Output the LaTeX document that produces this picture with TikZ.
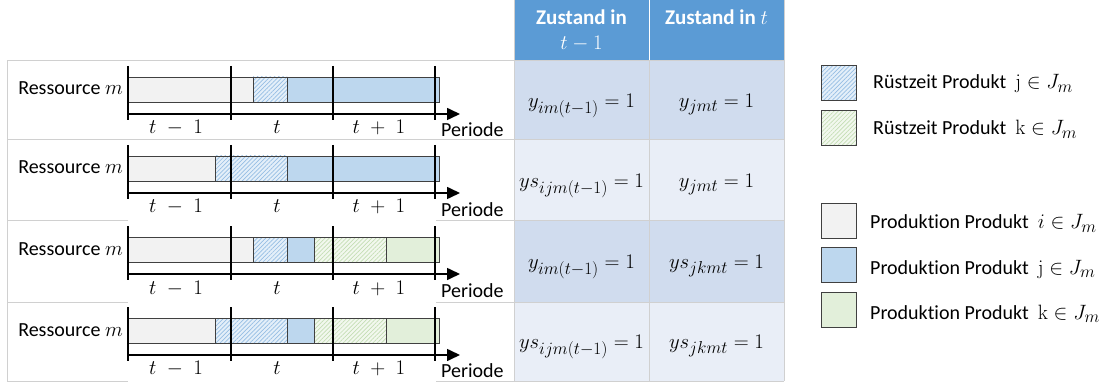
\documentclass[tikz,border=0pt]{standalone}
\usepackage[no-math]{fontspec}
\setmainfont{Carlito}[Ligatures=NoCommon]
\usetikzlibrary{arrows.meta,patterns.meta}
\DeclareMathSizes{20}{20}{16}{12}
\DeclareMathSizes{22}{22}{18}{14}
\definecolor{gridgray}{RGB}{208,208,208}
\definecolor{seggray}{RGB}{64,64,64}
\definecolor{prodgray}{RGB}{242,242,242}
\definecolor{prodblue}{RGB}{189,215,238}
\definecolor{prodgreen}{RGB}{226,239,218}
\definecolor{setupbluebg}{RGB}{228,239,249}
\definecolor{setupblueln}{RGB}{150,190,228}
\definecolor{setupgreenbg}{RGB}{242,248,238}
\definecolor{setupgreenln}{RGB}{196,222,180}
\definecolor{headblue}{RGB}{91,155,213}
\definecolor{rowdark}{RGB}{208,220,238}
\definecolor{rowlight}{RGB}{233,238,247}

\tikzset{
  seg/.style={draw=seggray, line width=0.8pt},
  prodi/.style={seg, fill=prodgray},
  prodj/.style={seg, fill=prodblue},
  prodk/.style={seg, fill=prodgreen},
  setupj/.style={seg, preaction={fill=setupbluebg},
    preaction={pattern={Lines[angle=45,distance=3pt,line width=0.7pt]}, pattern color=setupblueln}},
  setupk/.style={seg, preaction={fill=setupgreenbg},
    preaction={pattern={Lines[angle=45,distance=3pt,line width=0.7pt]}, pattern color=setupgreenln}},
  tick/.style={black, line width=1.6pt},
  timeaxis/.style={black, line width=1.6pt, -{Triangle[length=13pt,width=12pt]}},
  lbl/.style={inner sep=0pt, font=\fontsize{20}{24}\selectfont},
  cell/.style={inner sep=0pt, font=\fontsize{22}{26}\selectfont},
  headtxt/.style={inner sep=0pt, text=white, font=\fontsize{21}{25}\selectfont\bfseries},
  legbox/.style={minimum width=35pt, minimum height=35pt, inner sep=0pt}
}

\begin{document}
\begin{tikzpicture}[x=1pt, y=-1pt]

\useasboundingbox[fill=white] (0,0) rectangle (1112,385);

% Table header
\fill[headblue] (514,0) rectangle (784,61);
\draw[white, line width=1pt] (649,0) -- (649,61);
\node[headtxt, anchor=base] (HEAD_PREV) at (581.5,25) {Zustand in};
\node[headtxt, anchor=base] (HEAD_PREV_T) at (581.5,50) {$t-1$};
\node[headtxt, anchor=base] (HEAD_CUR) at (716.5,25) {Zustand in $t$};

% Table body
\fill[rowdark] (514,61) rectangle (784,140);
\fill[rowlight] (514,140) rectangle (784,221);
\fill[rowdark] (514,221) rectangle (784,302);
\fill[rowlight] (514,302) rectangle (784,381);
\draw[gridgray, line width=1pt] (7,61) -- (784,61) (7,140) -- (784,140);
\draw[gridgray, line width=1pt] (7,221) -- (128,221) (436,221) -- (784,221);
\draw[gridgray, line width=1pt] (7,302) -- (128,302) (436,302) -- (784,302);
\draw[gridgray, line width=1pt] (7,381) -- (128,381) (436,381) -- (784,381);
\draw[gridgray, line width=1pt] (7,61) -- (7,381) (514,0) -- (514,381) (649,61) -- (649,381) (784,0) -- (784,381);

\node[cell, anchor=base] (S1_PREV) at (581.5,107.5) {$y_{im(t-1)}=1$};
\node[cell, anchor=base] (S1_CUR) at (716.5,107.5) {$y_{jmt}=1$};
\node[cell, anchor=base] (S2_PREV) at (581.5,187.5) {$ys_{ijm(t-1)}=1$};
\node[cell, anchor=base] (S2_CUR) at (716.5,187.5) {$y_{jmt}=1$};
\node[cell, anchor=base] (S3_PREV) at (581.5,268.5) {$y_{im(t-1)}=1$};
\node[cell, anchor=base] (S3_CUR) at (716.5,268.5) {$ys_{jkmt}=1$};
\node[cell, anchor=base] (S4_PREV) at (581.5,348.5) {$ys_{ijm(t-1)}=1$};
\node[cell, anchor=base] (S4_CUR) at (716.5,348.5) {$ys_{jkmt}=1$};

% Row 1: i runs, setup j in t
\draw[prodi] (128,77) rectangle (253,102);
\draw[setupj] (253,77) rectangle (287,102);
\draw[prodj] (287,77) rectangle (439,102);
\draw[tick] (128,66) -- (128,120) (231,66) -- (231,120) (333,66) -- (333,120) (435,66) -- (435,120);
\coordinate (AX1_S) at (128,114);
\coordinate (AX1_E) at (460,114);
\draw[timeaxis] (AX1_S) -- (AX1_E);
\node[lbl, anchor=base east] (RES1) at (123,95) {Ressource $m$};
\node[lbl, anchor=base] (T1_PREV) at (176,134) {$t\;-\;1$};
\node[lbl, anchor=base] (T1_CUR) at (277,134) {$t$};
\node[lbl, anchor=base] (T1_NEXT) at (379,134) {$t\;+\;1$};
\node[lbl, anchor=base west] (PER1) at (441,137) {Periode};

% Row 2: setup j starts in t-1
\draw[prodi] (128,156) rectangle (215,181);
\draw[setupj] (215,156) rectangle (287,181);
\draw[prodj] (287,156) rectangle (439,181);
\draw[tick] (128,145) -- (128,199) (231,145) -- (231,199) (333,145) -- (333,199) (435,145) -- (435,199);
\coordinate (AX2_S) at (128,193);
\coordinate (AX2_E) at (460,193);
\draw[timeaxis] (AX2_S) -- (AX2_E);
\node[lbl, anchor=base east] (RES2) at (123,174) {Ressource $m$};
\node[lbl, anchor=base] (T2_PREV) at (176,213) {$t\;-\;1$};
\node[lbl, anchor=base] (T2_CUR) at (277,213) {$t$};
\node[lbl, anchor=base] (T2_NEXT) at (379,213) {$t\;+\;1$};
\node[lbl, anchor=base west] (PER2) at (441,216) {Periode};

% Row 3: setup j and setup k in t
\draw[prodi] (128,237) rectangle (253,262);
\draw[setupj] (253,237) rectangle (287,262);
\draw[prodj] (287,237) rectangle (314,262);
\draw[setupk] (314,237) rectangle (386,262);
\draw[prodk] (386,237) rectangle (439,262);
\draw[tick] (128,226) -- (128,280) (231,226) -- (231,280) (333,226) -- (333,280) (435,226) -- (435,280);
\coordinate (AX3_S) at (128,274);
\coordinate (AX3_E) at (460,274);
\draw[timeaxis] (AX3_S) -- (AX3_E);
\node[lbl, anchor=base east] (RES3) at (123,255) {Ressource $m$};
\node[lbl, anchor=base] (T3_PREV) at (176,294) {$t\;-\;1$};
\node[lbl, anchor=base] (T3_CUR) at (277,294) {$t$};
\node[lbl, anchor=base] (T3_NEXT) at (379,294) {$t\;+\;1$};
\node[lbl, anchor=base west] (PER3) at (441,297) {Periode};

% Row 4: setup j from t-1, setup k in t
\draw[prodi] (128,318) rectangle (215,343);
\draw[setupj] (215,318) rectangle (287,343);
\draw[prodj] (287,318) rectangle (314,343);
\draw[setupk] (314,318) rectangle (386,343);
\draw[prodk] (386,318) rectangle (439,343);
\draw[tick] (128,307) -- (128,361) (231,307) -- (231,361) (333,307) -- (333,361) (435,307) -- (435,361);
\coordinate (AX4_S) at (128,355);
\coordinate (AX4_E) at (460,355);
\draw[timeaxis] (AX4_S) -- (AX4_E);
\node[lbl, anchor=base east] (RES4) at (123,336) {Ressource $m$};
\node[lbl, anchor=base] (T4_PREV) at (176,374) {$t\;-\;1$};
\node[lbl, anchor=base] (T4_CUR) at (277,374) {$t$};
\node[lbl, anchor=base] (T4_NEXT) at (379,374) {$t\;+\;1$};
\node[lbl, anchor=base west] (PER4) at (441,377) {Periode};

% Legend
\node[legbox, setupj] (LEG_SJ) at (838.5,83) {};
\node[lbl, anchor=base west] (LEG_SJ_TXT) at (873,89) {Rüstzeit Produkt\ \ $\mathrm{j}\in J_m$};
\node[legbox, setupk] (LEG_SK) at (838.5,128) {};
\node[lbl, anchor=base west] (LEG_SK_TXT) at (873,135) {Rüstzeit Produkt\ \ $\mathrm{k}\in J_m$};
\node[legbox, prodi] (LEG_PI) at (838.5,221) {};
\node[lbl, anchor=base west] (LEG_PI_TXT) at (870,229) {Produktion Produkt\ \ $i\in J_m$};
\node[legbox, prodj] (LEG_PJ) at (838.5,265) {};
\node[lbl, anchor=base west] (LEG_PJ_TXT) at (870,274) {Produktion Produkt\ \ $\mathrm{j}\in J_m$};
\node[legbox, prodk] (LEG_PK) at (838.5,310) {};
\node[lbl, anchor=base west] (LEG_PK_TXT) at (870,319) {Produktion Produkt\ \ $\mathrm{k}\in J_m$};

\end{tikzpicture}
\end{document}
